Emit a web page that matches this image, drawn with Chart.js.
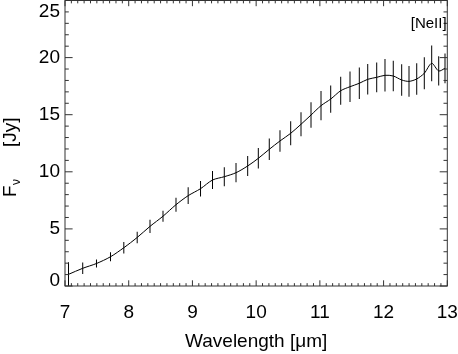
<!DOCTYPE html>
<html>
<head>
<meta charset="utf-8">
<script src="https://cdn.jsdelivr.net/npm/chart.js@4/dist/chart.umd.min.js"></script>
<style>
  html, body { margin: 0; padding: 0; background: #fff; }
  canvas { display: block; }
</style>
</head>
<body>
<canvas id="c" width="458" height="354"></canvas>
<script>
// ---- data ----
const wavelength = [7.055, 7.278, 7.494, 7.714, 7.923, 8.133, 8.334, 8.538, 8.742, 8.933,
  9.127, 9.315, 9.500, 9.684, 9.867, 10.034, 10.206, 10.374, 10.542, 10.704,
  10.861, 11.018, 11.170, 11.327, 11.473, 11.619, 11.751, 11.892, 12.022, 12.152,
  12.284, 12.399, 12.520, 12.639, 12.755, 12.865, 12.964];
const flux = [1.02, 1.55, 1.97, 2.56, 3.35, 4.25, 5.22, 6.11, 7.12, 7.91,
  8.52, 9.28, 9.57, 9.92, 10.51, 11.18, 11.97, 12.70, 13.37, 14.16,
  14.97, 15.79, 16.37, 17.10, 17.45, 17.75, 18.10, 18.27, 18.45, 18.39,
  18.04, 17.92, 18.13, 18.63, 19.50, 18.83, 19.06];
const fluxErr = [1.05, 0.50, 0.35, 0.40, 0.50, 0.50, 0.58, 0.48, 0.61, 0.73,
  0.68, 0.78, 0.83, 0.84, 0.87, 0.90, 0.94, 0.94, 1.05, 1.05,
  1.12, 1.28, 1.19, 1.23, 1.34, 1.38, 1.34, 1.31, 1.42, 1.34,
  1.38, 1.34, 1.38, 1.41, 1.57, 1.28, 1.30];
const xTickLabels = [7, 8, 9, 10, 11, 12, 13];
const yTickLabels = [0, 5, 10, 15, 20, 25];
const xMinorStep = 0.1;
const yMinorStep = 1;
const annotation = { text: '[NeII]', x: 12.708, y: 22.94 };
const xTitle = 'Wavelength [μm]';
const yTitleParts = ['F', 'ν', '[Jy]'];

const FAMILY = '"Liberation Sans", Arial, Helvetica, sans-serif';

const lineData = wavelength.map((w, i) => ({ x: w, y: flux[i] }));
const errData = wavelength.map((w, i) => ({ x: w, y: [flux[i] - fluxErr[i], flux[i] + fluxErr[i]] }));

const framePlugin = {
  id: 'framePlugin',
  afterDatasetsDraw(chart) {
    const { ctx, chartArea: a, scales: { x, y } } = chart;
    ctx.save();
    ctx.strokeStyle = '#333';
    ctx.lineWidth = 1;
    ctx.strokeRect(a.left, a.top, a.right - a.left, a.bottom - a.top);
    ctx.beginPath();
    const x0 = xTickLabels[0], x1 = xTickLabels[xTickLabels.length - 1];
    const nx = Math.round((x1 - x0) / xMinorStep);
    for (let i = 0; i <= nx; i++) {
      const v = x0 + i * xMinorStep;
      const px = x.getPixelForValue(v);
      const len = (i % 10 === 0) ? 5.7 : 2.85;
      ctx.moveTo(px, a.bottom); ctx.lineTo(px, a.bottom - len);
      ctx.moveTo(px, a.top); ctx.lineTo(px, a.top + len);
    }
    const y0 = yTickLabels[0], y1 = yTickLabels[yTickLabels.length - 1];
    const ny = Math.round((y1 - y0) / yMinorStep);
    for (let i = 0; i <= ny; i++) {
      const v = y0 + i * yMinorStep;
      const py = y.getPixelForValue(v);
      const len = (i % 5 === 0) ? 7.6 : 3.8;
      ctx.moveTo(a.left, py); ctx.lineTo(a.left + len, py);
      ctx.moveTo(a.right, py); ctx.lineTo(a.right - len, py);
    }
    ctx.stroke();
    ctx.restore();
  },
  afterDraw(chart) {
    const { ctx, scales: { x, y } } = chart;
    ctx.save();
    ctx.fillStyle = '#000';
    // annotation
    ctx.font = '15px ' + FAMILY;
    ctx.textAlign = 'center';
    ctx.textBaseline = 'middle';
    ctx.fillText(annotation.text, x.getPixelForValue(annotation.x), y.getPixelForValue(annotation.y));
    // y title with subscript
    ctx.translate(16, 197);
    ctx.rotate(-Math.PI / 2);
    ctx.textAlign = 'left';
    ctx.textBaseline = 'alphabetic';
    ctx.font = '19px ' + FAMILY;
    ctx.fillText(yTitleParts[0], 0, 0);
    const wF = ctx.measureText(yTitleParts[0]).width;
    ctx.font = '12px ' + FAMILY;
    ctx.fillText(yTitleParts[1], wF + 0.5, 4);
    ctx.font = '19px ' + FAMILY;
    ctx.fillText(yTitleParts[2], 50, 0);
    ctx.restore();
  }
};

new Chart(document.getElementById('c'), {
  type: 'line',
  data: {
    datasets: [
      {
        type: 'line',
        data: lineData,
        borderColor: '#000',
        borderWidth: 1,
        pointRadius: 0,
        tension: 0.3,
        fill: false,
        order: 1
      },
      {
        type: 'bar',
        data: errData,
        backgroundColor: '#000',
        borderWidth: 0,
        barThickness: 1,
        inflateAmount: 0,
        order: 2
      }
    ]
  },
  options: {
    responsive: false,
    animation: false,
    layout: { padding: { top: 0.5, left: 0, right: 0, bottom: 0 } },
    plugins: { legend: { display: false }, tooltip: { enabled: false } },
    scales: {
      x: {
        type: 'linear',
        min: 7, max: 13,
        offset: false,
        grid: { display: false, drawTicks: false },
        border: { display: false },
        afterBuildTicks: s => { s.ticks = xTickLabels.map(v => ({ value: v })); },
        afterFit: s => { s.height = 68; s.paddingLeft = 0; s.paddingRight = 10.7; },
        ticks: {
          color: '#000',
          padding: 15.6,
          maxRotation: 0,
          autoSkip: false,
          font: { family: FAMILY, size: 19 }
        },
        title: {
          display: true,
          text: xTitle,
          color: '#000',
          font: { family: FAMILY, size: 19 },
          padding: { top: 0, bottom: 0.6 }
        }
      },
      y: {
        type: 'linear',
        min: 0, max: 25,
        grid: { display: false, drawTicks: false },
        border: { display: false },
        afterBuildTicks: s => { s.ticks = yTickLabels.map(v => ({ value: v })); },
        afterFit: s => { s.width = 65; s.paddingTop = 0; s.paddingBottom = 0; },
        ticks: {
          color: '#000',
          padding: 5,
          autoSkip: false,
          callback: v => (v === 25 ? ['', '25'] : (v === 0 ? ['0', ''] : String(v))),
          font: ctx => {
            const v = ctx.tick ? ctx.tick.value : null;
            let lh = 1.2;
            if (v === 25) lh = 22.4 / 19;
            if (v === 0) lh = 11 / 19;
            return { family: FAMILY, size: 19, lineHeight: lh };
          }
        }
      }
    }
  },
  plugins: [framePlugin]
});
</script>
</body>
</html>
